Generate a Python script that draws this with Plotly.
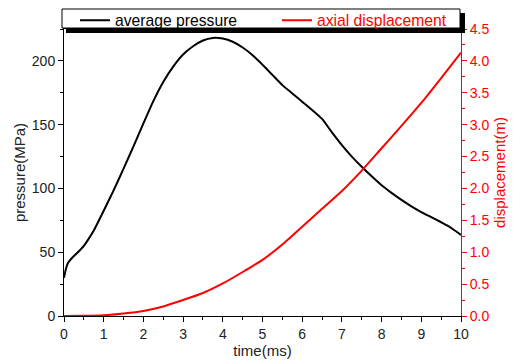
import plotly.graph_objects as go

# time samples for the pressure trace (ms) and average pressure (MPa)
time_p = [0, 0.05, 0.1, 0.2, 0.35, 0.5, 0.6, 0.75, 1.0, 1.25, 1.5, 1.75, 2.0,
          2.25, 2.5, 2.75, 3.0, 3.25, 3.5, 3.75, 4.0, 4.25, 4.5, 4.75, 5.0,
          5.25, 5.5, 5.75, 6.0, 6.25, 6.5, 6.75, 7.0, 7.25, 7.5, 7.75, 8.0,
          8.25, 8.5, 8.75, 9.0, 9.25, 9.5, 9.65, 9.8, 10.0]
pressure = [30, 37, 41.5, 45.5, 50, 55, 59.5, 67, 82.5, 98.5, 115.5, 133, 151,
            168.5, 183.5, 195.5, 205, 211.5, 216, 218, 217.5, 215, 210.5, 204.5, 197,
            189, 181, 174.5, 168, 161.5, 154.5, 144, 134, 125, 117, 109.5, 102.5,
            96.5, 91, 86, 81.5, 77.5, 73.5, 71, 68, 63.5]

# time samples for the displacement trace (ms) and axial displacement (m)
time_d = [0, 0.5, 1.0, 1.5, 2.0, 2.5, 3.0, 3.5, 4.0, 4.5, 5.0, 5.5, 6.0,
          6.5, 7.0, 7.5, 8.0, 8.5, 9.0, 9.5, 10.0]
displacement = [0, 0.002, 0.012, 0.04, 0.08, 0.15, 0.25, 0.36, 0.51, 0.69,
                0.88, 1.12, 1.40, 1.68, 1.96, 2.28, 2.63, 2.98, 3.34, 3.73, 4.13]

x_ticks = list(range(0, 11))
p_ticks = [0, 50, 100, 150, 200]
d_ticks = [0.0, 0.5, 1.0, 1.5, 2.0, 2.5, 3.0, 3.5, 4.0, 4.5]

FONT = "Liberation Sans, Arial, sans-serif"
RED = "#ff0000"
W, H = 514, 360
L, R, T, B = 64, 461, 29, 316          # plot area in pixels


def px(x):
    return (x - L) / (R - L)


def py(y):
    return (B - y) / (B - T)


fig = go.Figure()
fig.add_trace(go.Scatter(x=time_p, y=pressure, mode="lines", name="average pressure",
                         legend="legend",
                         line=dict(color="black", width=2, shape="spline", smoothing=0.5)))
fig.add_trace(go.Scatter(x=time_d, y=displacement, mode="lines", name="axial displacement",
                         yaxis="y2", legend="legend2",
                         line=dict(color=RED, width=2, shape="spline", smoothing=0.5)))
# invisible trace carrying the inward ticks along the top edge
fig.add_trace(go.Scatter(x=[0, 10], y=[0, 0], xaxis="x2", mode="lines",
                         line=dict(width=0), showlegend=False, hoverinfo="skip"))

legend_common = dict(orientation="h", xref="container", yref="container",
                     y=1 - 3.5 / H, xanchor="left", yanchor="top",
                     bgcolor="rgba(0,0,0,0)", borderwidth=0, itemwidth=30)

fig.update_layout(
    width=W, height=H,
    margin=dict(l=L, r=W - R, t=T, b=H - B, autoexpand=False),
    paper_bgcolor="white", plot_bgcolor="white",
    font=dict(family=FONT, size=14, color="#222222"),
    showlegend=True,
    legend=dict(x=75 / W, font=dict(family=FONT, size=15.7, color="black"),
                **legend_common),
    legend2=dict(x=277 / W, font=dict(family=FONT, size=15.7, color=RED),
                 **legend_common),
    xaxis=dict(range=[0, 10], tickvals=x_ticks, ticks="outside", ticklen=5,
               tickcolor="black", showline=True, linecolor="black", linewidth=1,
               showgrid=False, zeroline=False, automargin=False,
               minor=dict(dtick=0.5, ticks="outside", ticklen=3, tickcolor="black"),
               title=dict(text="time(ms)", font=dict(size=15), standoff=0),
               tickfont=dict(size=14)),
    xaxis2=dict(range=[0, 10], overlaying="x", side="top", tickvals=x_ticks,
                ticks="inside", ticklen=4, tickcolor="black", showticklabels=False,
                showline=True, linecolor="black", linewidth=1, showgrid=False,
                zeroline=False, automargin=False,
                minor=dict(dtick=0.5, ticks="inside", ticklen=2, tickcolor="black")),
    yaxis=dict(range=[0, 225], tickvals=p_ticks, ticks="outside", ticklen=5,
               tickcolor="black", showline=True, linecolor="black", linewidth=1,
               showgrid=False, zeroline=False, automargin=False,
               minor=dict(dtick=25, ticks="outside", ticklen=3, tickcolor="black"),
               title=dict(text="pressure(MPa)", font=dict(size=15), standoff=2),
               tickfont=dict(size=14)),
    yaxis2=dict(range=[0, 4.5], tickvals=d_ticks, tickformat=".1f",
                overlaying="y", side="right", ticks="outside", ticklen=5,
                tickcolor=RED, showline=True, linecolor=RED, linewidth=1,
                showgrid=False, zeroline=False, automargin=False,
                minor=dict(dtick=0.25, ticks="outside", ticklen=3, tickcolor=RED),
                tickfont=dict(size=14, color=RED),
                title=dict(text="displacement(m)", font=dict(size=15, color=RED),
                           standoff=6)),
    shapes=[
        # legend drop shadow
        dict(type="rect", xref="paper", yref="paper", layer="above",
             x0=px(66), x1=px(465), y0=py(33), y1=py(13),
             fillcolor="black", line=dict(width=0)),
        # legend frame
        dict(type="rect", xref="paper", yref="paper", layer="above",
             x0=px(62), x1=px(460), y0=py(28), y1=py(9),
             fillcolor="white", line=dict(color="black", width=1)),
    ],
)

fig.write_html("out.html")
